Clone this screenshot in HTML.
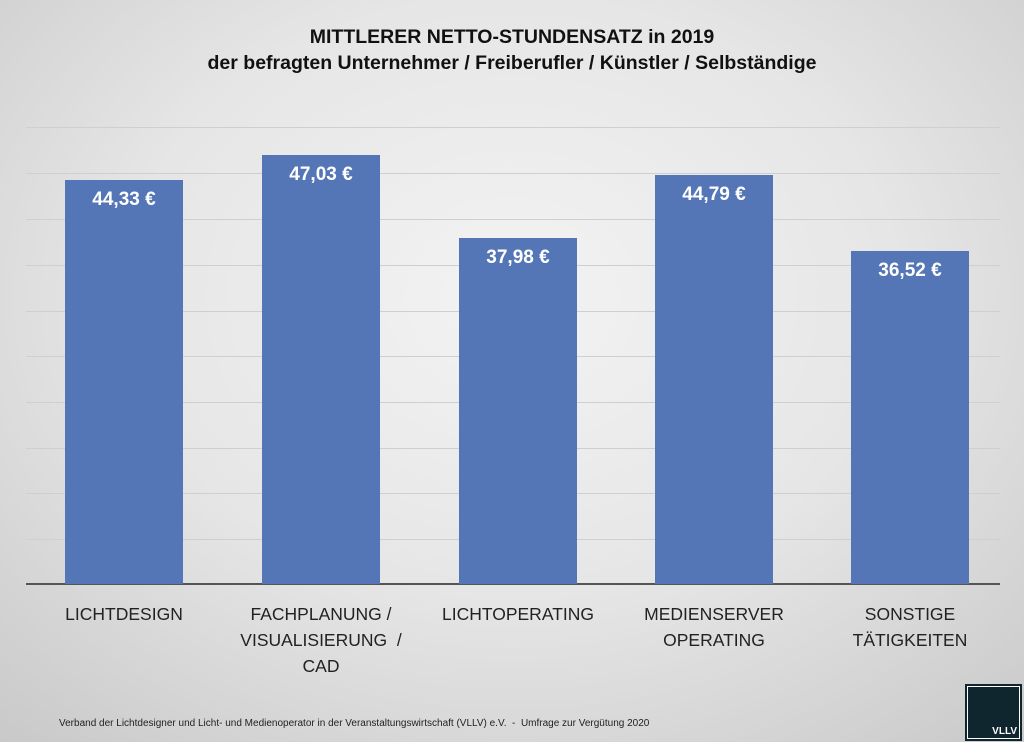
<!DOCTYPE html>
<html><head><meta charset="utf-8"><style>
body{margin:0;width:1024px;height:742px;overflow:hidden;font-family:"Liberation Sans",sans-serif;
background:radial-gradient(ellipse 75% 80% at 50% 40%,#f3f3f3 0%,#e6e6e6 50%,#c9c9c9 100%);position:relative}
.t{position:absolute;left:0;width:1024px;text-align:center;font-weight:bold;font-size:19.5px;color:#111}
.g{position:absolute;left:26px;width:974px;height:1px;background:#cfcfcf}
.b{position:absolute;width:118px;background:#5576b6;bottom:158px;color:#fff;font-weight:bold;font-size:19px;text-align:center;box-sizing:border-box;padding-top:9px}
.l{position:absolute;top:601px;width:200px;text-align:center;font-size:17.5px;color:#222;line-height:26px}
</style></head><body>
<div class="t" style="top:26px">MITTLERER NETTO-STUNDENSATZ in 2019</div>
<div class="t" style="top:52px">der befragten Unternehmer / Freiberufler / Künstler / Selbständige</div>
<div class="g" style="top:127px"></div><div class="g" style="top:173px"></div><div class="g" style="top:219px"></div>
<div class="g" style="top:265px"></div><div class="g" style="top:311px"></div><div class="g" style="top:356px"></div>
<div class="g" style="top:402px"></div><div class="g" style="top:448px"></div><div class="g" style="top:493px"></div>
<div class="g" style="top:539px"></div>
<div class="g" style="top:583px;height:2px;background:#555"></div>
<div class="b" style="left:65px;top:180px">44,33 €</div>
<div class="b" style="left:262px;top:155px">47,03 €</div>
<div class="b" style="left:459px;top:238px">37,98 €</div>
<div class="b" style="left:655px;top:175px">44,79 €</div>
<div class="b" style="left:851px;top:251px">36,52 €</div>
<div class="l" style="left:24px">LICHTDESIGN</div>
<div class="l" style="left:221px">FACHPLANUNG /<br>VISUALISIERUNG &nbsp;/<br>CAD</div>
<div class="l" style="left:418px">LICHTOPERATING</div>
<div class="l" style="left:614px">MEDIENSERVER<br>OPERATING</div>
<div class="l" style="left:810px">SONSTIGE<br>TÄTIGKEITEN</div>
<div style="position:absolute;left:59px;top:718px;font-size:10px;color:#222">Verband der Lichtdesigner und Licht- und Medienoperator in der Veranstaltungswirtschaft (VLLV) e.V. &nbsp;- &nbsp;Umfrage zur Vergütung 2020</div>
<div style="position:absolute;left:965px;top:684px;width:57px;height:57px;background:#10262f;box-sizing:border-box;padding:2px">
<div style="width:100%;height:100%;border:1.5px solid #fff;box-sizing:border-box;position:relative">
<div style="position:absolute;right:2px;bottom:1px;color:#fff;font-weight:bold;font-size:10px">VLLV</div></div></div>
</body></html>
